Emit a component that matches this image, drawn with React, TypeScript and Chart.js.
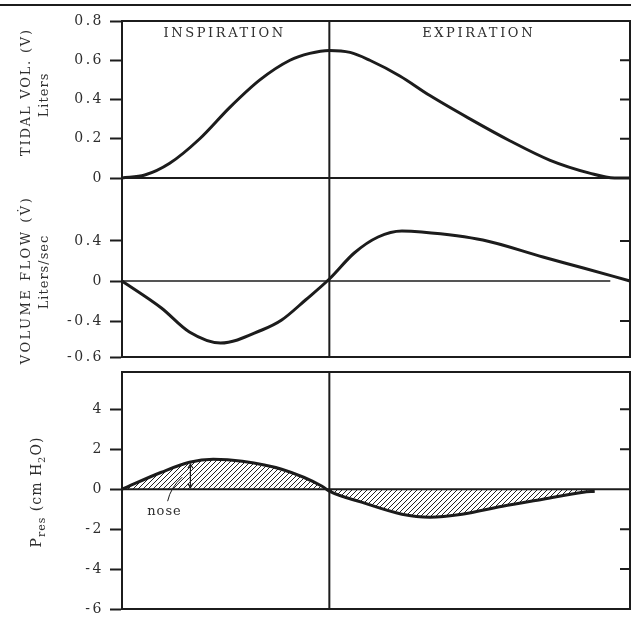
import React, { useEffect, useRef } from 'react';
import { Chart, registerables } from 'chart.js';

Chart.register(...registerables);

// ---------- data ----------
const X_MAX = 4.9; // time axis (arbitrary units)
const PHASE_SPLIT = 2.0;
const PHASE_LABELS = ['INSPIRATION', 'EXPIRATION'];
const PHASE_LABEL_T = [0.99, 3.44];

// Tidal volume (Liters)
const TV_TIME = [0, 0.22, 0.46, 0.75, 1.04, 1.33, 1.62, 1.81, 2.0, 2.2, 2.39, 2.68, 2.97, 3.36, 3.74, 4.13, 4.51, 4.75, 4.9];
const TV_VALUES = [0, 0.015, 0.075, 0.2, 0.36, 0.5, 0.6, 0.635, 0.65, 0.64, 0.6, 0.52, 0.42, 0.3, 0.19, 0.09, 0.025, 0, 0];
const TV_TICKS = [0, 0.2, 0.4, 0.6, 0.8];
const TV_TICK_LABELS = ['0', '0.2', '0.4', '0.6', '0.8'];

// Volume flow (Liters/sec)
const FLOW_TIME = [0, 0.38, 0.65, 0.95, 1.35, 1.54, 1.77, 2.0, 2.24, 2.47, 2.7, 2.89, 3.48, 4.06, 4.45, 4.9];
const FLOW_VALUES = [0, -0.27, -0.51, -0.62, -0.49, -0.39, -0.19, 0.02, 0.28, 0.44, 0.5, 0.49, 0.41, 0.24, 0.13, 0];
const FLOW_ZERO_END = 4.71;
const FLOW_TICKS = [-0.76, -0.4, 0, 0.4];
const FLOW_TICK_LABELS = ['-0.6', '-0.4', '0', '0.4'];

// Resistive pressure (cm H2O)
const PRES_TIME = [0, 0.38, 0.65, 0.88, 1.16, 1.54, 1.93, 2.0, 2.31, 2.7, 2.97, 3.28, 3.67, 4.06, 4.45, 4.56];
const PRES_VALUES = [0, 0.85, 1.35, 1.5, 1.4, 1.0, 0.15, -0.1, -0.65, -1.25, -1.4, -1.25, -0.85, -0.5, -0.15, -0.1];
const PRES_TICKS = [-6, -4, -2, 0, 2, 4];
const PRES_TICK_LABELS = ['-6', '-4', '-2', '0', '2', '4'];

const NOSE_LABEL = 'nose';

// ---------- style ----------
const FONT = '"DejaVu Serif", "Liberation Serif", serif';
const INK = '#1c1c1c';
const TEXT = '#2e2e2e';
const PAD = 20;
const AXIS_X = 122;
const W = 631;

type Run = { t: string; size: number; dy?: number };
type TitleLine = { runs: Run[]; x: number; y: number; spacing: number };

const pts = (xs: number[], ys: number[]) => xs.map((x, i) => ({ x, y: ys[i] }));

function drawRotated(ctx: CanvasRenderingContext2D, tl: TitleLine, cy: number) {
  const runs = tl.runs;
  ctx.save();
  ctx.translate(tl.x, cy);
  ctx.rotate(-Math.PI / 2);
  (ctx as any).letterSpacing = tl.spacing + 'px';
  ctx.fillStyle = TEXT;
  ctx.textAlign = 'left';
  ctx.textBaseline = 'alphabetic';
  let total = 0;
  const widths = runs.map((r) => {
    ctx.font = `${r.size}px ${FONT}`;
    const w = ctx.measureText(r.t).width;
    total += w;
    return w;
  });
  const base = runs[0].size * 0.36;
  let x = -total / 2;
  runs.forEach((r, i) => {
    ctx.font = `${r.size}px ${FONT}`;
    ctx.fillText(r.t, x, base + (r.dy || 0));
    x += widths[i];
  });
  ctx.restore();
}

type Panel = {
  top: number;
  bottom: number;
  min: number;
  max: number;
  ticks: number[];
  labels: string[];
  rightTicks: number[];
  frameTop: boolean;
  titles: TitleLine[];
  kind: 'tv' | 'flow' | 'pres';
};

const PANELS: Panel[] = [
  {
    top: 21, bottom: 178, min: 0, max: 0.8,
    ticks: TV_TICKS, labels: TV_TICK_LABELS, rightTicks: [0.2, 0.4, 0.6], frameTop: true,
    titles: [
      { runs: [{ t: 'TIDAL VOL. (V)', size: 13 }], x: 25, y: 92, spacing: 1.8 },
      { runs: [{ t: 'Liters', size: 13 }], x: 43, y: 95, spacing: 1 },
    ],
    kind: 'tv',
  },
  {
    top: 178, bottom: 357, min: -0.76, max: 1.03,
    ticks: FLOW_TICKS, labels: FLOW_TICK_LABELS, rightTicks: [-0.4, 0.4], frameTop: false,
    titles: [
      { runs: [{ t: 'VOLUME FLOW (V\u0307)', size: 13 }], x: 25, y: 280, spacing: 2.5 },
      { runs: [{ t: 'Liters/sec', size: 13 }], x: 43, y: 272, spacing: 1 },
    ],
    kind: 'flow',
  },
  {
    top: 372, bottom: 609, min: -6, max: 5.87,
    ticks: PRES_TICKS, labels: PRES_TICK_LABELS, rightTicks: [-4, -2, 2, 4], frameTop: true,
    titles: [
      {
        runs: [
          { t: 'P', size: 14 },
          { t: 'res', size: 11, dy: 4 },
          { t: ' (cm H', size: 14 },
          { t: '2', size: 10, dy: 4 },
          { t: 'O)', size: 14 },
        ],
        x: 36, y: 492, spacing: 1,
      },
    ],
    kind: 'pres',
  },
];

function makeHatch(): CanvasPattern | string {
  const c = document.createElement('canvas');
  c.width = 5;
  c.height = 5;
  const g = c.getContext('2d');
  if (!g) return 'rgba(0,0,0,0.3)';
  g.strokeStyle = '#222';
  g.lineWidth = 1;
  g.beginPath();
  g.moveTo(0, 5); g.lineTo(5, 0);
  g.moveTo(-1, 1); g.lineTo(1, -1);
  g.moveTo(4, 6); g.lineTo(6, 4);
  g.stroke();
  return g.createPattern(c, 'repeat') || 'rgba(0,0,0,0.3)';
}

function makeDecor(p: Panel) {
  const canvasTop = p.top - PAD;
  return {
    id: 'decor_' + p.kind,
    beforeDraw(chart: any) {
      (chart.ctx as any).letterSpacing = '2.5px';
    },
    afterDraw(chart: any) {
      const ctx: CanvasRenderingContext2D = chart.ctx;
      const { left, right, top, bottom } = chart.chartArea;
      const xs = chart.scales.x;
      const ys = chart.scales.y;
      ctx.save();
      ctx.strokeStyle = INK;
      ctx.lineCap = 'butt';
      ctx.lineWidth = 2;
      ctx.beginPath();
      if (p.frameTop) { ctx.moveTo(left - 1, top); ctx.lineTo(right + 2, top); }
      ctx.moveTo(left - 1, bottom); ctx.lineTo(right + 2, bottom);
      ctx.moveTo(right, top); ctx.lineTo(right, bottom);
      const dx = xs.getPixelForValue(PHASE_SPLIT);
      ctx.moveTo(dx, top); ctx.lineTo(dx, bottom);
      p.rightTicks.forEach((v) => {
        const y = ys.getPixelForValue(v);
        ctx.moveTo(right - 10, y); ctx.lineTo(right, y);
      });
      ctx.stroke();

      // axis titles
      p.titles.forEach((tl) => drawRotated(ctx, tl, tl.y - canvasTop));

      if (p.kind === 'tv') {
        (ctx as any).letterSpacing = '2.6px';
        ctx.fillStyle = TEXT;
        ctx.font = `13px ${FONT}`;
        ctx.textAlign = 'center';
        ctx.textBaseline = 'middle';
        PHASE_LABELS.forEach((s, i) => {
          ctx.fillText(s, xs.getPixelForValue(PHASE_LABEL_T[i]), ys.getPixelForValue(0.735));
        });
      }
      if (p.kind === 'pres') {
        (ctx as any).letterSpacing = '1px';
        ctx.fillStyle = TEXT;
        ctx.font = `13px ${FONT}`;
        ctx.textAlign = 'center';
        ctx.textBaseline = 'middle';
        ctx.fillText(NOSE_LABEL, xs.getPixelForValue(0.41), ys.getPixelForValue(-1.1));
        // leader line
        ctx.lineWidth = 1;
        ctx.beginPath();
        ctx.moveTo(xs.getPixelForValue(0.44), ys.getPixelForValue(-0.6));
        ctx.quadraticCurveTo(
          xs.getPixelForValue(0.47), ys.getPixelForValue(0.1),
          xs.getPixelForValue(0.58), ys.getPixelForValue(0.6)
        );
        ctx.stroke();
        // double arrow
        const ax = xs.getPixelForValue(0.66);
        const y0 = ys.getPixelForValue(0.08);
        const y1 = ys.getPixelForValue(1.25);
        ctx.lineWidth = 1.2;
        ctx.beginPath();
        ctx.moveTo(ax, y0); ctx.lineTo(ax, y1);
        ctx.moveTo(ax - 2.5, y0 - 4); ctx.lineTo(ax, y0); ctx.lineTo(ax + 2.5, y0 - 4);
        ctx.moveTo(ax - 2.5, y1 + 4); ctx.lineTo(ax, y1); ctx.lineTo(ax + 2.5, y1 + 4);
        ctx.stroke();
      }
      ctx.restore();
    },
  };
}

function buildConfig(p: Panel, hatch: CanvasPattern | string): any {
  const curve = {
    borderColor: INK, borderWidth: 3, pointRadius: 0,
    cubicInterpolationMode: 'monotone', fill: false, clip: 4,
  };
  let datasets: any[] = [];
  if (p.kind === 'tv') {
    datasets = [{ ...curve, data: pts(TV_TIME, TV_VALUES) }];
  } else if (p.kind === 'flow') {
    datasets = [
      { borderColor: INK, borderWidth: 1.5, pointRadius: 0, fill: false, data: [{ x: 0, y: 0 }, { x: FLOW_ZERO_END, y: 0 }] },
      { ...curve, data: pts(FLOW_TIME, FLOW_VALUES) },
    ];
  } else {
    datasets = [
      { borderColor: INK, borderWidth: 2, pointRadius: 0, fill: false, data: [{ x: 0, y: 0 }, { x: X_MAX, y: 0 }] },
      { ...curve, data: pts(PRES_TIME, PRES_VALUES), fill: { value: 0 }, backgroundColor: hatch },
    ];
  }
  return {
    type: 'line',
    data: { datasets },
    options: {
      animation: false,
      responsive: false,
      devicePixelRatio: 1,
      events: [],
      layout: { padding: { top: PAD, bottom: PAD, left: 0, right: 1 } },
      plugins: { legend: { display: false }, tooltip: { enabled: false } },
      scales: {
        x: { type: 'linear', min: 0, max: X_MAX, display: false },
        y: {
          type: 'linear',
          min: p.min,
          max: p.max,
          afterFit: (s: any) => { s.width = AXIS_X; },
          afterBuildTicks: (s: any) => { s.ticks = p.ticks.map((v) => ({ value: v })); },
          ticks: {
            callback: (_v: any, i: number) => p.labels[i],
            padding: 6,
            color: TEXT,
            autoSkip: false,
            font: { family: FONT, size: 14 },
          },
          grid: {
            display: true,
            drawOnChartArea: false,
            drawTicks: true,
            tickLength: 12,
            tickColor: INK,
            tickWidth: 2,
            color: INK,
          },
          border: { display: true, color: INK, width: 2 },
        },
      },
    },
    plugins: [makeDecor(p)],
  };
}

export default function App() {
  const refs = useRef<(HTMLCanvasElement | null)[]>([]);
  useEffect(() => {
    const hatch = makeHatch();
    const charts = PANELS.map((p, i) => new Chart(refs.current[i] as HTMLCanvasElement, buildConfig(p, hatch)));
    return () => charts.forEach((c) => c.destroy());
  }, []);
  return (
    <div style={{ position: 'fixed', left: 0, top: 0, width: W, height: 617, background: '#fff', overflow: 'hidden' }}>
      <div style={{ position: 'absolute', left: 0, top: 4, width: W, height: 2, background: INK }} />
      {PANELS.map((p, i) => (
        <canvas
          key={i}
          ref={(el) => { refs.current[i] = el; }}
          width={W}
          height={p.bottom - p.top + 2 * PAD}
          style={{ position: 'absolute', left: 0, top: p.top - PAD, display: 'block' }}
        />
      ))}
    </div>
  );
}
